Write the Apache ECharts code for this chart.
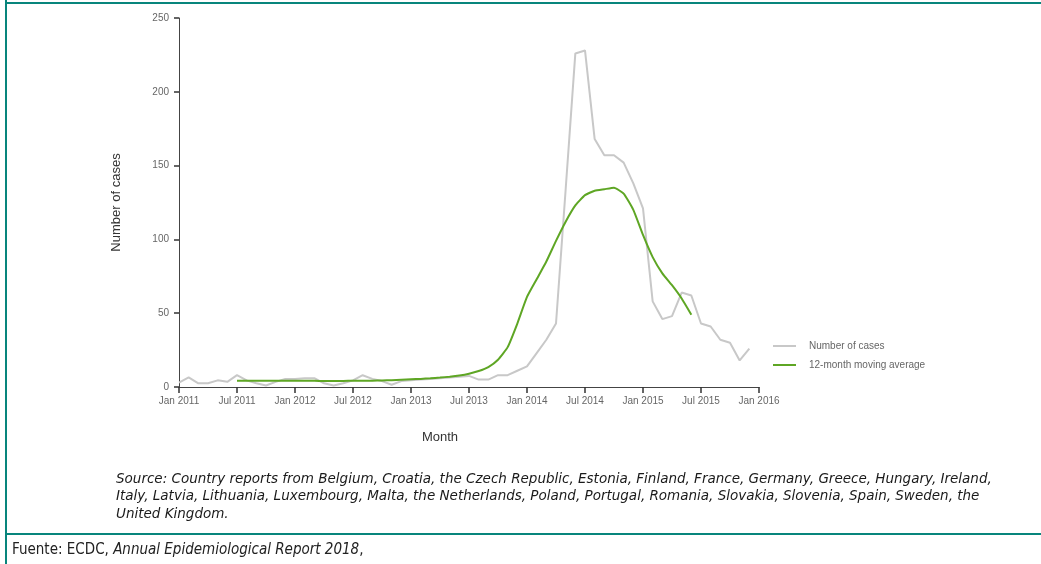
<!DOCTYPE html>
<html>
<head>
<meta charset="utf-8">
<script src="https://cdn.jsdelivr.net/npm/echarts@6/dist/echarts.min.js"></script>
<style>
html,body{margin:0;padding:0;background:#fff;}
#chart{width:1041px;height:564px;}
</style>
</head>
<body>
<div id="chart"></div>
<script>
// Tick labels on the x axis (every 6 months, month index 0 = Jan 2011)
const tickLabels = ['Jan 2011','Jul 2011','Jan 2012','Jul 2012','Jan 2013','Jul 2013','Jan 2014','Jul 2014','Jan 2015','Jul 2015','Jan 2016'];
const yTicks = [0, 50, 100, 150, 200, 250];

// Monthly number of cases, Jan 2011 .. Dec 2015
const casesStartMonth = 0;
const cases = [3, 6.5, 2.5, 2.5, 4.5, 3.5, 8, 4.5, 2.5, 1, 3.5, 5.5,
  5.5, 6, 6, 2.5, 1, 2.5, 4.5, 8, 5.5, 4, 1.5, 4,
  4.5, 5, 5.5, 6, 6.5, 7, 7.5, 5, 5, 8, 8, 11,
  14, 23, 32, 43, 134, 226, 228, 168, 157, 157, 152, 138,
  121, 58, 46, 48, 64, 62, 43, 41, 32, 30, 18, 26];

// 12-month moving average, Jul 2011 .. Jun 2015
const avgStartMonth = 6;
const movingAvg = [4.3, 4.3, 4.2, 4.2, 4.2, 4.2,
  4.3, 4.3, 4.2, 4.1, 4.1, 4.1, 4.2, 4.2, 4.3, 4.4, 4.6, 4.9,
  5.2, 5.5, 5.9, 6.4, 7, 7.8, 9, 10.8, 13.5, 18.5, 27, 43,
  61, 73, 85, 99, 112, 123, 130, 133, 134, 135, 131, 120,
  103, 88, 77, 69, 60, 49];

const seriesNames = ['Number of cases', '12-month moving average'];

const sourceLines = [
  'Source: Country reports from Belgium, Croatia, the Czech Republic, Estonia, Finland, France, Germany, Greece, Hungary, Ireland,',
  'Italy, Latvia, Lithuania, Luxembourg, Malta, the Netherlands, Poland, Portugal, Romania, Slovakia, Slovenia, Spain, Sweden, the',
  'United Kingdom.'
];

const chart = echarts.init(document.getElementById('chart'), null, {renderer: 'canvas'});
const FONT = 'Liberation Sans, Arial, sans-serif';
const TEAL = '#08857c';
const SRC_FONT = 'italic 13.5px "DejaVu Sans", sans-serif';
const FOOT_N = '15px "DejaVu Sans Condensed", "DejaVu Sans", sans-serif';
const FOOT_I = 'italic 15px "DejaVu Sans Condensed", "DejaVu Sans", sans-serif';

const toPairs = (arr, start) => arr.map((v, i) => [start + i, v]);

chart.setOption({
  animation: false,
  backgroundColor: '#fff',
  textStyle: {fontFamily: FONT},
  grid: {left: 179, top: 18, width: 580, height: 369, containLabel: false},
  xAxis: {
    type: 'value', min: 0, max: 60, interval: 6,
    axisLine: {show: true, onZero: false, lineStyle: {color: '#444', width: 1}},
    axisTick: {show: true, length: 6, lineStyle: {color: '#333', width: 1.5}},
    axisLabel: {
      color: '#666', fontSize: 10, margin: 9, fontFamily: FONT,
      formatter: v => tickLabels[v / 6] || ''
    },
    splitLine: {show: false}
  },
  yAxis: {
    type: 'value', min: 0, max: 250, interval: 50,
    name: 'Number of cases', nameLocation: 'middle', nameGap: 56,
    nameTextStyle: {color: '#333', fontSize: 13, fontFamily: FONT},
    axisLine: {show: true, lineStyle: {color: '#444', width: 1}},
    axisTick: {show: true, length: 5, lineStyle: {color: '#333', width: 1.5}},
    axisLabel: {color: '#666', fontSize: 10, margin: 10, fontFamily: FONT,
      formatter: v => yTicks.includes(v) ? String(v) : ''},
    splitLine: {show: false}
  },
  legend: {
    orient: 'vertical', left: 768, top: 336,
    itemWidth: 23, itemHeight: 2, itemGap: 9, icon: 'rect',
    textStyle: {color: '#666', fontSize: 10, fontFamily: FONT, padding: [0, 0, 0, 8]},
    data: seriesNames
  },
  series: [
    {
      name: seriesNames[0], type: 'line', data: toPairs(cases, casesStartMonth),
      symbol: 'none', smooth: false,
      lineStyle: {color: '#c8c8c8', width: 2},
      itemStyle: {color: '#c8c8c8'}, z: 2
    },
    {
      name: seriesNames[1], type: 'line', data: toPairs(movingAvg, avgStartMonth),
      symbol: 'none', smooth: 0.15,
      lineStyle: {color: '#5ea624', width: 2},
      itemStyle: {color: '#5ea624'}, z: 3
    }
  ],
  graphic: [
    {type: 'rect', shape: {x: 5, y: 0, width: 2, height: 564}, style: {fill: TEAL}, silent: true},
    {type: 'rect', shape: {x: 5, y: 2, width: 1036, height: 2}, style: {fill: TEAL}, silent: true},
    {type: 'rect', shape: {x: 5, y: 533, width: 1036, height: 2}, style: {fill: TEAL}, silent: true},
    {type: 'text', x: 440, y: 437, style: {text: 'Month', fill: '#333', font: '13px ' + FONT, textAlign: 'center', textVerticalAlign: 'middle'}},
    {type: 'text', x: 116, y: 479, style: {text: sourceLines[0], fill: '#1a1a1a', font: SRC_FONT, textVerticalAlign: 'middle'}},
    {type: 'text', x: 116, y: 496.5, style: {text: sourceLines[1], fill: '#1a1a1a', font: SRC_FONT, textVerticalAlign: 'middle'}},
    {type: 'text', x: 116, y: 514, style: {text: sourceLines[2], fill: '#1a1a1a', font: SRC_FONT, textVerticalAlign: 'middle'}},
    {type: 'text', x: 12, y: 550, style: {rich: {
      n: {fill: '#222', font: FOOT_N},
      i: {fill: '#222', font: FOOT_I}
    }, text: '{n|Fuente: ECDC, }{i|Annual Epidemiological Report 2018}{n|,}', textVerticalAlign: 'middle'}}
  ]
});
</script>
</body>
</html>
